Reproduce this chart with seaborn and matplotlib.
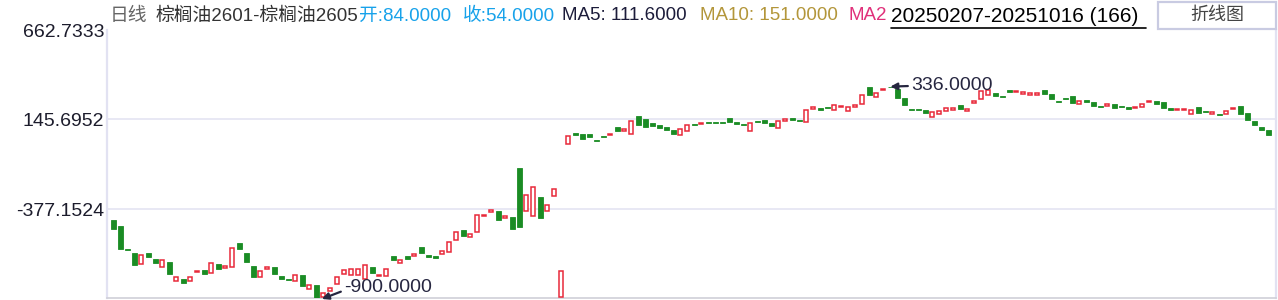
import numpy as np
import pandas as pd
import matplotlib
matplotlib.use("Agg")
import matplotlib.pyplot as plt
import seaborn as sns
from matplotlib.patches import Rectangle
from matplotlib.lines import Line2D

# ---------------- data ----------------
opens = [-440, -475, -609, -632, -695, -632, -667, -712, -685, -794,
         -784, -794, -743, -731, -747, -696, -720, -712, -574, -632,
         -708, -770, -726, -712, -766, -784, -797, -760, -840, -819,
         -887, -851, -810, -752, -760, -759, -781, -714, -766, -766,
         -650, -692, -650, -648, -598, -644, -650, -636, -625, -559,
         -499, -542, -510, -417, -394, -388, -429, -423, -138, -388,
         -417, -307, -386, -299, -887, 4, 66, 60, 60, 25,
         49, 56, 101, 78, 62, 165, 147, 124, 113, 101,
         83, 56, 79, 118, 118, 130, 130, 130, 153, 130,
         118, 79, 136, 142, 124, 97, 136, 153, 142, 132,
         206, 211, 217, 202, 217, 196, 217, 236, 334, 277,
         316, 336, 322, 270, 206, 206, 200, 161, 178, 196,
         202, 229, 196, 242, 262, 287, 299, 281, 316, 305,
         295, 289, 289, 316, 293, 252, 270, 281, 237, 258,
         246, 223, 223, 235, 223, 217, 211, 219, 246, 252,
         246, 211, 200, 200, 178, 217, 194, 176, 176, 178,
         206, 223, 182, 136, 101, 84]

closes = [-493, -609, -613, -702, -644, -656, -691, -673, -755, -772,
          -807, -772, -737, -755, -691, -726, -708, -603, -609, -685,
          -772, -737, -714, -755, -784, -790, -760, -824, -819, -900,
          -865, -836, -772, -731, -723, -726, -702, -749, -760, -726,
          -673, -673, -667, -638, -631, -654, -660, -621, -568, -512,
          -534, -522, -411, -411, -382, -440, -417, -493, -481, -295,
          -248, -429, -353, -260, -737, 49, 56, 31, 43, 19,
          43, 62, 79, 89, 136, 114, 103, 107, 95, 83,
          62, 89, 113, 113, 124, 124, 124, 124, 130, 118,
          113, 124, 130, 124, 107, 136, 147, 142, 136, 200,
          217, 200, 211, 229, 223, 217, 229, 287, 289, 299,
          322, 331, 271, 231, 200, 200, 184, 188, 196, 211,
          211, 207, 206, 252, 312, 316, 281, 276, 305, 310,
          305, 299, 299, 293, 264, 248, 264, 241, 252, 246,
          223, 219, 235, 211, 217, 206, 217, 235, 252, 235,
          211, 200, 206, 206, 200, 182, 188, 188, 171, 194,
          211, 178, 142, 113, 83, 54]

ytick_values = [-377.1524, 145.6952, 662.7333]
y_bottom = -894.4
title_parts = [("日线", "#666666"),
               ("棕榈油2601-棕榈油2605", "#333333"),
               ("开:84.0000", "#17a2ea"),
               ("收:54.0000", "#17a2ea"),
               ("MA5: 111.6000", "#1c1c3a"),
               ("MA10: 151.0000", "#b3963a"),
               ("MA2", "#e0307a")]
date_label = "20250207-20251016 (166)"
button_label = "折线图"

# ---------------- style ----------------
sns.set_theme(style="white")
plt.rcParams["font.family"] = ["Liberation Sans", "Noto Sans CJK SC", "DejaVu Sans"]

RED = "#e8293a"
GREEN = "#1a8c24"
W, H = 1278, 300

fig = plt.figure(figsize=(W / 100, H / 100), dpi=100)
ax = fig.add_axes([107 / W, (H - 298) / H, (1276 - 107) / W, (298 - 30.5) / H])

df = pd.DataFrame({"idx": np.arange(len(opens)), "open": opens, "close": closes})
df["low"] = df[["open", "close"]].min(axis=1)
df["high"] = df[["open", "close"]].max(axis=1)
df["body"] = (df["close"] - df["open"]).abs()

up = df[df["close"] > df["open"]].reset_index(drop=True)
dn = df[df["close"] <= df["open"]].reset_index(drop=True)

sns.barplot(data=dn, x="idx", y="body", bottom=dn["low"].values, native_scale=True,
            width=0.64, color=GREEN, edgecolor=GREEN, linewidth=0.6, saturation=1,
            errorbar=None, ax=ax, zorder=3)
sns.barplot(data=up, x="idx", y="body", bottom=up["low"].values, native_scale=True,
            width=0.56, color="white", edgecolor=RED, linewidth=1.1, saturation=1,
            errorbar=None, ax=ax, zorder=3)

ax.set_xlim(-0.9, len(opens) - 1 + 1.1)
ax.set_ylim(y_bottom, ytick_values[-1])
ax.set_xticks([])
ax.set_yticks(ytick_values)
ax.set_yticklabels([f"{v:.4f}" for v in ytick_values], fontsize=14, color="#1c1c2c")
ax.tick_params(axis="y", length=0, pad=2)
ax.set_xlabel("")
ax.set_ylabel("")
for v in ytick_values:
    ax.axhline(v, color="#e6e6f3", lw=1.3, zorder=1)

ax.spines["top"].set_visible(False)
ax.spines["left"].set_color("#e2e2f2")
ax.spines["left"].set_linewidth(1.6)
ax.spines["right"].set_color("#e2e2f2")
ax.spines["right"].set_linewidth(1.6)
ax.spines["bottom"].set_color("#cfcfd8")
ax.spines["bottom"].set_linewidth(1.2)

# max / min annotations
imax = int(df["high"].idxmax())
imin = int(df["low"].idxmin())
arrow = dict(arrowstyle="-|>", color="#262640", lw=1.6, mutation_scale=10,
             shrinkA=0, shrinkB=0)
ax.annotate(f"{df['high'][imax]:.4f}", xy=(imax, df["high"][imax]),
            xytext=(15, 0.5), textcoords="offset points", va="center", ha="left",
            fontsize=14, color="#262640",
            arrowprops=dict(relpos=(0, 0.5), **arrow), zorder=5)
ax.annotate(f"{df['low'][imin]:.4f}", xy=(imin + 0.8, df["low"][imin]),
            xytext=(16, 8), textcoords="offset points", va="center", ha="left",
            fontsize=14, color="#262640",
            arrowprops=dict(relpos=(0, 0.35), **arrow), zorder=5,
            annotation_clip=False)

# header
xs = [110, 156, 359, 463, 562, 700, 848]
yc = 1 - 16 / H
for (txt, col), x in zip(title_parts, xs):
    fig.text(x / W, yc, txt, color=col, fontsize=13.5, ha="left", va="center")
fig.text(891 / W, yc, date_label, color="black", fontsize=15, ha="left", va="center")
fig.add_artist(Line2D([891 / W, 1146 / W], [1 - 27.5 / H, 1 - 27.5 / H],
                      color="black", lw=1.2))

fig.add_artist(Rectangle((1158 / W, 1 - 29 / H), (1276 - 1158) / W, 27 / H,
                         transform=fig.transFigure, facecolor="white",
                         edgecolor="#c9cbe2", lw=1.6))
fig.text(1217 / W, 1 - 15.5 / H, button_label, color="#444444", fontsize=13,
         ha="center", va="center")

fig.savefig("out.png", dpi=100)
